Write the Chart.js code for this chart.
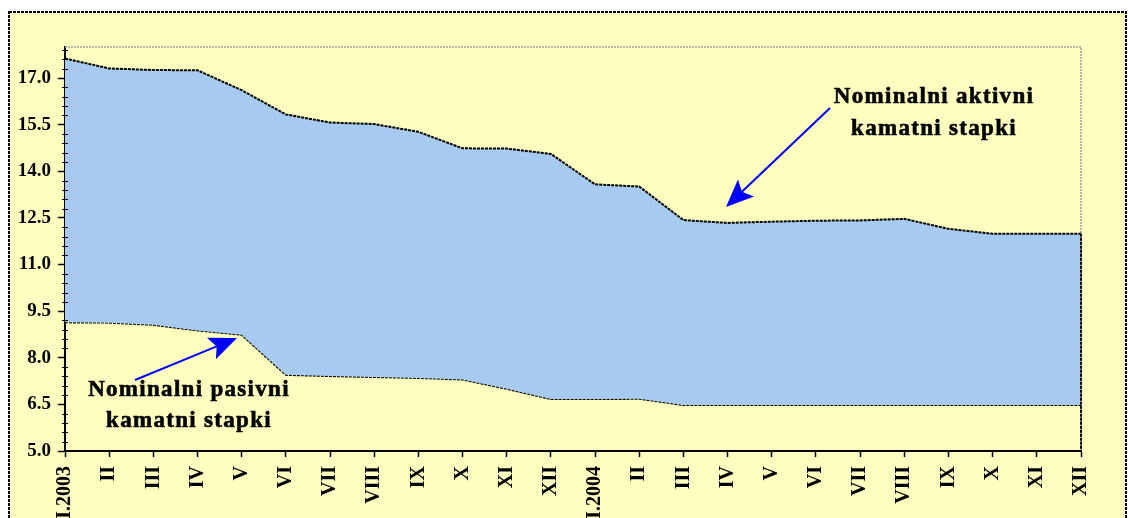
<!DOCTYPE html>
<html>
<head>
<meta charset="utf-8">
<script src="https://cdn.jsdelivr.net/npm/chart.js@4/dist/chart.umd.min.js"></script>
<style>
    html, body { margin: 0; padding: 0; background: #ffffff; }
    #wrap { position: relative; width: 1128px; height: 518px; }
</style>
</head>
<body>
<div id="wrap"><canvas id="chart" width="1128" height="518"></canvas></div>
<script>
    // months, two years
    const months = ['I.2003', 'II', 'III', 'IV', 'V', 'VI', 'VII', 'VIII', 'IX', 'X', 'XI', 'XII',
                    'I.2004', 'II', 'III', 'IV', 'V', 'VI', 'VII', 'VIII', 'IX', 'X', 'XI', 'XII'];

    // nominal lending rates (%)
    const aktivni = [17.63, 17.31, 17.26, 17.25, 16.61, 15.83, 15.57, 15.52, 15.27, 14.74, 14.73, 14.56,
                     13.58, 13.51, 12.43, 12.34, 12.38, 12.41, 12.42, 12.47, 12.15, 11.99, 11.99, 11.99];

    // nominal deposit rates (%)
    const pasivni = [9.14, 9.13, 9.06, 8.88, 8.74, 7.45, 7.41, 7.38, 7.35, 7.30, 7.00, 6.67,
                     6.67, 6.68, 6.48, 6.48, 6.48, 6.48, 6.48, 6.48, 6.48, 6.48, 6.48, 6.48];

    const yTicks = [5.0, 6.5, 8.0, 9.5, 11.0, 12.5, 14.0, 15.5, 17.0];
    const yMin = 5.0;
    const yMax = 18.0;
    const yMinorStep = 0.3;

    const BG = '#ffffc0';
    const FILL = '#a6caf0';
    const FONT = 'Liberation Serif';

    function arrow(ctx, x0, y0, x1, y1) {
        let ang = Math.atan2(y1 - y0, x1 - x0);
        let len = 30, wing = 0.4, back = 22;
        ctx.save();
        ctx.strokeStyle = '#0000ff';
        ctx.fillStyle = '#0000ff';
        ctx.lineWidth = 2;
        ctx.beginPath();
        ctx.moveTo(x0, y0);
        ctx.lineTo(x1 - back * Math.cos(ang), y1 - back * Math.sin(ang));
        ctx.stroke();
        ctx.beginPath();
        ctx.moveTo(x1, y1);
        ctx.lineTo(x1 - len * Math.cos(ang - wing), y1 - len * Math.sin(ang - wing));
        ctx.lineTo(x1 - back * Math.cos(ang), y1 - back * Math.sin(ang));
        ctx.lineTo(x1 - len * Math.cos(ang + wing), y1 - len * Math.sin(ang + wing));
        ctx.closePath();
        ctx.fill();
        ctx.restore();
    }

    function label(ctx, lines, cx, cy, gap) {
        ctx.save();
        ctx.fillStyle = '#000';
        ctx.strokeStyle = '#000';
        ctx.lineWidth = 0.6;
        ctx.font = 'bold 23px ' + FONT;
        ctx.textAlign = 'center';
        ctx.textBaseline = 'middle';
        ctx.letterSpacing = '1.3px';
        for (let i = 0; i < lines.length; i++) {
            ctx.fillText(lines[i], cx, cy + i * gap);
            ctx.strokeText(lines[i], cx, cy + i * gap);
        }
        ctx.restore();
    }

    const framePlugin = {
        id: 'frame',
        beforeDraw: function(chart) {
            let ctx = chart.ctx;
            ctx.save();
            ctx.fillStyle = '#ffffff';
            ctx.fillRect(0, 0, chart.width, chart.height);
            ctx.fillStyle = BG;
            ctx.fillRect(9, 12, chart.width - 10, chart.height);
            ctx.strokeStyle = '#000';
            ctx.lineWidth = 2;
            ctx.setLineDash([3, 1]);
            ctx.strokeRect(9, 12, chart.width - 11, chart.height + 10);
            ctx.restore();
        },
        beforeDatasetsDraw: function(chart) {
            // grey dotted outline of the plot area, top and right
            let a = chart.chartArea, ctx = chart.ctx;
            ctx.save();
            ctx.strokeStyle = '#a0a0a0';
            ctx.lineWidth = 1.5;
            ctx.setLineDash([2, 1]);
            ctx.beginPath();
            ctx.moveTo(a.left, a.top);
            ctx.lineTo(a.right, a.top);
            ctx.lineTo(a.right, a.bottom);
            ctx.stroke();
            ctx.restore();
        },
        afterDatasetsDraw: function(chart) {
            // closing edge of the areas at the last month
            let ctx = chart.ctx;
            let x = chart.scales.x.getPixelForValue(months.length - 1);
            let y = chart.scales.y;
            ctx.save();
            ctx.strokeStyle = '#000';
            ctx.lineWidth = 2;
            ctx.setLineDash([3, 1]);
            ctx.beginPath();
            ctx.moveTo(x, y.getPixelForValue(aktivni[aktivni.length - 1]));
            ctx.lineTo(x, y.getPixelForValue(yMin));
            ctx.stroke();
            ctx.restore();
        },
        afterDraw: function(chart) {
            let ctx = chart.ctx;
            let y = chart.scales.y;
            let left = chart.chartArea.left;

            // minor ticks on the value axis
            ctx.save();
            ctx.strokeStyle = '#000';
            ctx.lineWidth = 1;
            for (let i = 0; yMin + i * yMinorStep < yMax; i++) {
                let v = yMin + i * yMinorStep;
                if (i % 5 == 0)
                    continue;
                let py = Math.round(y.getPixelForValue(v)) + 0.5;
                ctx.beginPath();
                ctx.moveTo(left - 3, py);
                ctx.lineTo(left + 3, py);
                ctx.stroke();
            }
            ctx.restore();

            label(ctx, ['Nominalni aktivni', 'kamatni stapki'], 934, 97, 32);
            label(ctx, ['Nominalni pasivni', 'kamatni stapki'], 189, 390, 31);
            arrow(ctx, 830, 108, 726, 207);
            arrow(ctx, 135, 380, 237, 338);
        }
    };

    const lineStyle = {
        borderColor: '#000',
        borderWidth: 2,
        borderDash: [3, 1],
        pointRadius: 0,
        tension: 0
    };

    new Chart(document.getElementById('chart'), {
        type: 'line',
        data: {
            labels: months,
            datasets: [
                Object.assign({
                    label: 'Nominalni aktivni kamatni stapki',
                    data: aktivni,
                    fill: '+1',
                    backgroundColor: FILL
                }, lineStyle),
                Object.assign({
                    label: 'Nominalni pasivni kamatni stapki',
                    data: pasivni,
                    fill: false
                }, lineStyle)
            ]
        },
        options: {
            responsive: false,
            animation: false,
            layout: { padding: { top: 47, right: 47, left: 0, bottom: 0 } },
            plugins: {
                legend: { display: false },
                tooltip: { enabled: false }
            },
            scales: {
                x: {
                    type: 'category',
                    offset: false,
                    z: 1,
                    afterFit: function(scale) { scale.height = 67; },
                    grid: { drawOnChartArea: false, tickLength: 6, tickColor: '#000', tickWidth: 1.5 },
                    border: { color: '#000', width: 2, dash: [3, 1] },
                    ticks: {
                        autoSkip: false,
                        minRotation: 90,
                        maxRotation: 90,
                        padding: 9,
                        color: '#000',
                        font: { family: FONT, size: 20, weight: 'bold' }
                    }
                },
                y: {
                    min: yMin,
                    max: yMax,
                    z: 1,
                    afterFit: function(scale) { scale.width = 65; },
                    afterBuildTicks: function(scale) {
                        scale.ticks = yTicks.map(v => ({ value: v }));
                    },
                    grid: { drawOnChartArea: false, tickLength: 7, tickColor: '#000', tickWidth: 1.5 },
                    border: { color: '#000', width: 2, dash: [3, 1] },
                    ticks: {
                        padding: 7,
                        color: '#000',
                        font: { family: FONT, size: 19, weight: 'bold' },
                        callback: v => v.toFixed(1)
                    }
                }
            }
        },
        plugins: [framePlugin]
    });
</script>
</body>
</html>
